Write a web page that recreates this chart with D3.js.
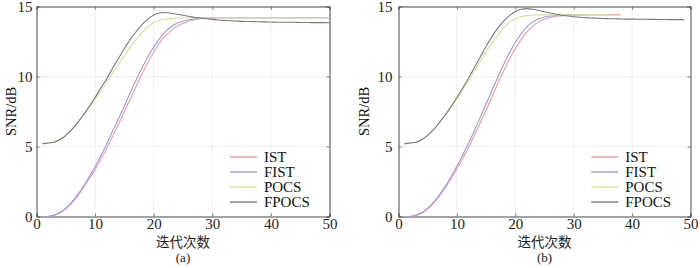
<!DOCTYPE html>
<html>
<head>
<meta charset="utf-8">
<script src="https://cdn.jsdelivr.net/npm/d3@7"></script>
<style>
  body { margin: 0; background: #fff; }
  svg { display: block; }
</style>
</head>
<body>
<div id="chart"></div>
<script>
// series, iteration 1..N
var seriesNames = [ "IST", "FIST", "POCS", "FPOCS" ];
var seriesColors = [ "#f59a9a", "#9b9be0", "#cfe49a", "#7a7a7a" ];

var istA = [ -0.05, 0, 0.08, 0.25, 0.55, 0.95, 1.45, 2.05, 2.7, 3.35, 4.1, 4.9, 5.75, 6.6, 7.5, 8.4, 9.3, 10.2, 11.0, 11.75,
  12.4, 12.9, 13.3, 13.6, 13.8, 13.95, 14.05, 14.12, 14.16, 14.18, 14.2, 14.2, 14.2, 14.2, 14.2, 14.2, 14.2, 14.2, 14.2, 14.2,
  14.2, 14.2, 14.2, 14.2, 14.2, 14.2, 14.2, 14.2, 14.2, 14.2 ];
var fistA = [ -0.05, 0, 0.1, 0.28, 0.6, 1.02, 1.55, 2.15, 2.85, 3.55, 4.35, 5.2, 6.1, 7.0, 7.9, 8.85, 9.75, 10.6, 11.4, 12.1,
  12.7, 13.2, 13.55, 13.8, 13.95, 14.05, 14.12, 14.16, 14.18, 14.2, 14.2, 14.2, 14.2, 14.2, 14.2, 14.2, 14.2, 14.2, 14.2, 14.2,
  14.2, 14.2, 14.2, 14.2, 14.2, 14.2, 14.2, 14.2, 14.2, 14.2 ];
var pocsA = [ 5.2, 5.25, 5.3, 5.5, 5.8, 6.2, 6.7, 7.25, 7.83, 8.4, 9.0, 9.6, 10.25, 10.9, 11.5, 12.1, 12.65, 13.15, 13.55, 13.85,
  14.02, 14.1, 14.15, 14.18, 14.2, 14.2, 14.2, 14.2, 14.2, 14.2, 14.2, 14.2, 14.2, 14.2, 14.2, 14.2, 14.2, 14.2, 14.2, 14.2,
  14.2, 14.2, 14.2, 14.2, 14.2, 14.2, 14.2, 14.2, 14.2, 14.2 ];
var fpocsA = [ 5.2, 5.25, 5.3, 5.5, 5.8, 6.2, 6.7, 7.25, 7.85, 8.5, 9.2, 9.85, 10.6, 11.3, 12.0, 12.65, 13.2, 13.7, 14.1, 14.4,
  14.53, 14.57, 14.52, 14.45, 14.37, 14.3, 14.23, 14.18, 14.13, 14.08, 14.04, 14.01, 13.98, 13.96, 13.94, 13.93, 13.92, 13.91, 13.9, 13.89,
  13.88, 13.88, 13.87, 13.87, 13.86, 13.86, 13.85, 13.85, 13.85, 13.84 ];

var istB = [ -0.05, 0, 0.08, 0.25, 0.55, 0.95, 1.45, 2.05, 2.7, 3.4, 4.15, 4.95, 5.8, 6.7, 7.6, 8.55, 9.5, 10.4, 11.25, 12.0,
  12.65, 13.2, 13.6, 13.9, 14.1, 14.22, 14.3, 14.35, 14.38, 14.4, 14.4, 14.4, 14.4, 14.4, 14.4, 14.4, 14.4, 14.4 ];
var fistB = [ -0.05, 0, 0.1, 0.28, 0.6, 1.02, 1.55, 2.15, 2.85, 3.6, 4.4, 5.25, 6.15, 7.1, 8.05, 9.0, 9.95, 10.85, 11.7, 12.45,
  13.05, 13.55, 13.9, 14.12, 14.25, 14.32, 14.36, 14.38, 14.4, 14.4, 14.4, 14.4 ];
var pocsB = [ 5.2, 5.25, 5.3, 5.5, 5.8, 6.2, 6.7, 7.25, 7.83, 8.4, 9.05, 9.7, 10.4, 11.1, 11.75, 12.4, 12.95, 13.45, 13.85, 14.12,
  14.28, 14.35, 14.38, 14.4, 14.4, 14.4, 14.4, 14.4, 14.4, 14.4, 14.4, 14.4, 14.4, 14.4, 14.4, 14.4 ];
var fpocsB = [ 5.2, 5.25, 5.3, 5.5, 5.8, 6.2, 6.7, 7.25, 7.85, 8.5, 9.2, 9.9, 10.65, 11.4, 12.15, 12.85, 13.45, 13.95, 14.35, 14.65,
  14.8, 14.85, 14.8, 14.72, 14.62, 14.53, 14.45, 14.38, 14.32, 14.27, 14.23, 14.2, 14.18, 14.16, 14.14, 14.13, 14.12, 14.11, 14.1, 14.1,
  14.09, 14.09, 14.08, 14.08, 14.07, 14.07, 14.06, 14.06, 14.05 ];

var xTicks = [ 0, 10, 20, 30, 40, 50 ];
var yTicks = [ 0, 5, 10, 15 ];
var xTitle = "迭代次数";
var yTitle = "SNR/dB";

var width = 700, height = 268;
var serif = "'Liberation Serif', 'DejaVu Serif', serif";

var svg = d3.select( "#chart" ).append( "svg" )
  .attr( "width", width )
  .attr( "height", height );

function drawPanel( left, right, series, caption, labelGap, titleGap ) {

  var x = d3.scaleLinear().domain( [ 0, 50 ] ).range( [ left, right ] );
  var y = d3.scaleLinear().domain( [ 0, 15 ] ).range( [ 216.5, 6.5 ] );

  var g = svg.append( "g" );

  // faint grid
  g.selectAll( ".gx" ).data( xTicks.slice( 1, -1 ) ).enter().append( "line" )
    .attr( "x1", d => x( d ) ).attr( "x2", d => x( d ) )
    .attr( "y1", y( 0 ) ).attr( "y2", y( 15 ) )
    .style( "stroke", "#efefef" ).style( "stroke-width", 1 );
  g.selectAll( ".gy" ).data( yTicks.slice( 1, -1 ) ).enter().append( "line" )
    .attr( "x1", x( 0 ) ).attr( "x2", x( 50 ) )
    .attr( "y1", d => y( d ) ).attr( "y2", d => y( d ) )
    .style( "stroke", "#efefef" ).style( "stroke-width", 1 );

  // axes, ticks inward
  var axB = g.append( "g" ).attr( "transform", "translate(0," + y( 0 ) + ")" )
    .call( d3.axisBottom( x ).tickValues( xTicks ).tickSize( -3 ).tickPadding( 2 ) );
  var axT = g.append( "g" ).attr( "transform", "translate(0," + y( 15 ) + ")" )
    .call( d3.axisTop( x ).tickValues( xTicks ).tickSize( -3 ).tickFormat( "" ) );
  var axL = g.append( "g" ).attr( "transform", "translate(" + x( 0 ) + ",0)" )
    .call( d3.axisLeft( y ).tickValues( yTicks ).tickSize( -3 ).tickPadding( labelGap ) );
  var axR = g.append( "g" ).attr( "transform", "translate(" + x( 50 ) + ",0)" )
    .call( d3.axisRight( y ).tickValues( yTicks ).tickSize( -3 ).tickFormat( "" ) );
  [ axB, axT, axL, axR ].forEach( function( a ) {
    a.select( ".domain" ).style( "stroke", "#444" );
    a.selectAll( ".tick line" ).style( "stroke", "#777" );
    a.selectAll( ".tick text" )
      .style( "font-family", serif )
      .style( "font-size", "15px" )
      .style( "fill", "#222" );
  } );
  axB.selectAll( ".tick text" ).attr( "dy", "0.71em" );

  // curves
  var line = d3.line()
    .x( ( d, i ) => x( i + 1 ) )
    .y( d => y( d ) )
    .curve( d3.curveMonotoneX );

  g.selectAll( ".curve" ).data( series ).enter().append( "path" )
    .attr( "class", "curve" )
    .attr( "d", d => line( d ) )
    .style( "fill", "none" )
    .style( "stroke", ( d, i ) => seriesColors[ i ] )
    .style( "stroke-width", 1.1 );

  // legend
  var lx = x( 33 ), ly = 157;
  var leg = g.selectAll( ".leg" ).data( seriesNames ).enter().append( "g" )
    .attr( "transform", ( d, i ) => "translate(" + lx + "," + ( ly + i * 15 ) + ")" );
  leg.append( "line" )
    .attr( "x1", 0 ).attr( "x2", 27 ).attr( "y1", 0 ).attr( "y2", 0 )
    .style( "stroke", ( d, i ) => seriesColors[ i ] )
    .style( "stroke-width", 1.4 );
  leg.append( "text" )
    .attr( "x", 34 ).attr( "y", 5 )
    .style( "font-family", serif )
    .style( "font-size", "15px" )
    .style( "fill", "#111" )
    .text( d => d );

  // titles
  g.append( "text" )
    .attr( "transform", "translate(" + ( left - titleGap ) + "," + y( 7.5 ) + ") rotate(-90)" )
    .attr( "text-anchor", "middle" )
    .attr( "dy", "0.35em" )
    .style( "font-family", serif )
    .style( "font-size", "14.5px" )
    .style( "fill", "#111" )
    .text( yTitle );
  g.append( "text" )
    .attr( "x", x( 25 ) ).attr( "y", 247 )
    .attr( "text-anchor", "middle" )
    .style( "font-family", "'Noto Sans CJK SC', sans-serif" )
    .style( "font-size", "13.5px" )
    .style( "fill", "#222" )
    .text( xTitle );
  g.append( "text" )
    .attr( "x", x( 25 ) ).attr( "y", 262 )
    .attr( "text-anchor", "middle" )
    .style( "font-family", serif )
    .style( "font-size", "13px" )
    .style( "fill", "#222" )
    .text( caption );
}

drawPanel( 36.5, 329.5, [ istA, fistA, pocsA, fpocsA ], "(a)", 4, 26 );
drawPanel( 398.5, 690.5, [ istB, fistB, pocsB, fpocsB ], "(b)", 6, 35 );
</script>
</body>
</html>
